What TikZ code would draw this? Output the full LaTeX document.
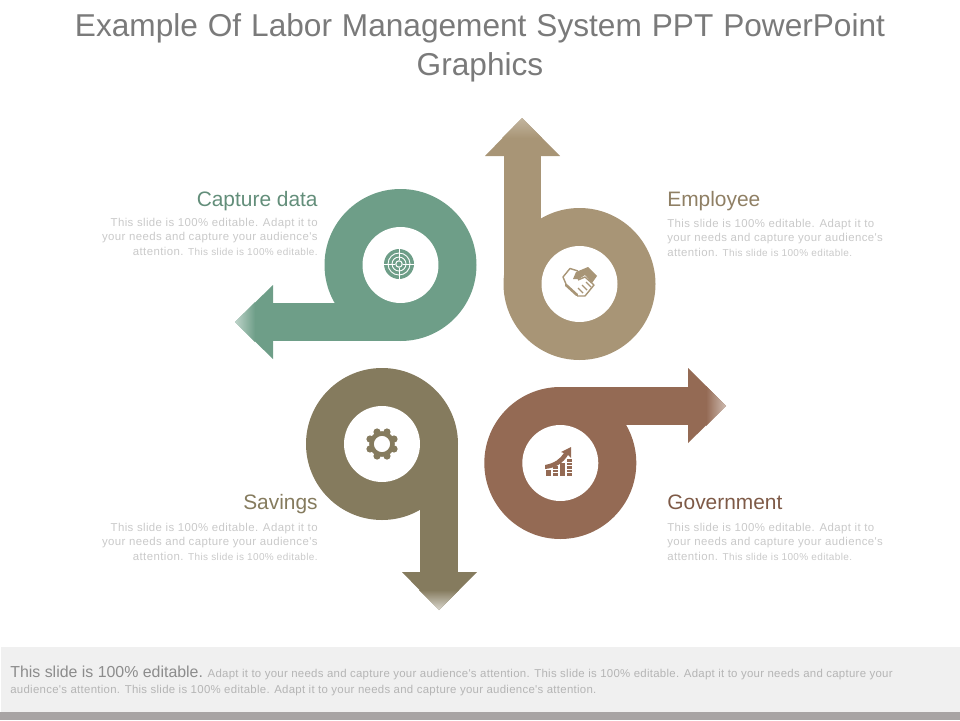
\documentclass[tikz,border=0pt]{standalone}
\usepackage{fontspec}
\setmainfont{Liberation Sans}
\newfontfamily\titlefont[WordSpace=1.13]{Liberation Sans}
\newfontfamily\bodyfont[LetterSpace=3.5]{Liberation Sans}
\newfontfamily\footfont[LetterSpace=2.5]{Liberation Sans}
\usepackage{xcolor}
\usepackage{tikz}
\usetikzlibrary{positioning,calc}
\definecolor{capturegreen}{HTML}{6E9E88}
\definecolor{employeetan}{HTML}{A89576}
\definecolor{savingsolive}{HTML}{857B5E}
\definecolor{governrust}{HTML}{946A54}
\definecolor{bodygray}{HTML}{C9C9C9}
\definecolor{footerbar}{HTML}{A8A4A4}
\tikzset{
    hubhole/.style={circle,fill=white,minimum size=1.52cm,inner sep=0pt},
    headline/.style={inner sep=0pt,font=\fontsize{11.9}{14}\selectfont},
    bodyleft/.style={anchor=north east,align=right,text=bodygray,inner sep=0pt,font=\bodyfont\fontsize{6.5}{8.15}\selectfont},
    bodyright/.style={anchor=north west,align=left,text=bodygray,inner sep=0pt,font=\bodyfont\fontsize{6.5}{8.15}\selectfont}
}
\newcommand{\smalltail}{{\fontsize{5.7}{8.15}\selectfont This slide is 100\% editable.}}
\begin{document}
\begin{tikzpicture}[x=0.02cm,y=-0.02cm]
    \useasboundingbox (0,0) rectangle (960,720);

    % Footer band
    \fill[black!6] (1,647) rectangle (960,712);
    \fill[footerbar] (0,712) rectangle (960,720);

    % Title
    \node[align=center,text=black!52,font=\titlefont\fontsize{18}{22}\selectfont] (title) at (480,48)
        {Example Of Labor Management System PPT PowerPoint\\Graphics};

    % Capture data arrow
    \fill[capturegreen] (400.5,265) circle (76);
    \fill[capturegreen] (400.5,303) rectangle (272,341);
    \fill[capturegreen] (273,285) -- (235,322) -- (273,359) -- cycle;
    \shade[left color=capturegreen!45!white,right color=capturegreen] (235,322) -- (255,302) -- (255,342) -- cycle;
    \node[hubhole] (capturehub) at (400.5,265) {};

    % Employee arrow
    \fill[employeetan] (579.5,284) circle (76);
    \fill[employeetan] (503.5,284) rectangle (541,155);
    \fill[employeetan] (485,156) -- (522,118) -- (560,156) -- cycle;
    \shade[top color=employeetan!70!white,bottom color=employeetan] (522,118) -- (502,138) -- (542,138) -- cycle;
    \node[hubhole] (employeehub) at (579.5,284) {};

    % Savings arrow
    \fill[savingsolive] (382,444) circle (76);
    \fill[savingsolive] (420,444) rectangle (458,573);
    \fill[savingsolive] (402,572) -- (439,610) -- (477,572) -- cycle;
    \shade[bottom color=savingsolive!30!white,top color=savingsolive] (439,610) -- (419,590) -- (459,590) -- cycle;
    \node[hubhole] (savingshub) at (382,444) {};

    % Government arrow
    \fill[governrust] (560.3,463) circle (76);
    \fill[governrust] (560.3,387) rectangle (689,425);
    \fill[governrust] (688,368) -- (726,406) -- (688,443) -- cycle;
    \shade[right color=governrust!45!white,left color=governrust] (726,406) -- (706,386) -- (706,426) -- cycle;
    \node[hubhole] (governhub) at (560.3,463) {};

    % Target icon
    \coordinate (targetmid) at (399,264);
    \fill[capturegreen] (targetmid) circle (15);
    \draw[white,line width=0.5pt] (targetmid) circle (11) (targetmid) circle (7);
    \draw[white,line width=0.6pt] (targetmid) circle (3.2);
    \draw[white,line width=0.4pt] (384,264) -- (395,264) (403,264) -- (414,264) (399,249) -- (399,260) (399,268) -- (399,279);

    % Handshake icon
    \draw[employeetan,line width=0.8pt,line join=round] (578,271) -- (570,268.5) -- (563,277) -- (566,284);
    \draw[employeetan,line width=1.5pt,line cap=round] (566,285) -- (577,295);
    \draw[employeetan,line width=0.8pt,line join=round] (577,296) -- (585,296) -- (594,285) -- (585,277) -- (578,280);
    \fill[employeetan] (576,272) -- (588,267) -- (597,276) -- (592,283) -- (585,275) -- (579,279) -- (573,279) -- cycle;
    \draw[employeetan,line width=0.8pt] (578,288) -- (583,293) (582,285) -- (587,290) (586,282) -- (591,287);

    % Gear icon
    \coordinate (gearmid) at (382,444);
    \draw[savingsolive,line width=2.6pt] (gearmid) circle (10.5);
    \foreach \ang in {0,45,...,315}
        \fill[savingsolive] (gearmid) ++(\ang+22.5:13) circle (3.6);

    % Chart icon
    \fill[governrust] (546,470) rectangle (551,476);
    \fill[governrust] (553,466) rectangle (558,476);
    \fill[governrust] (560,463) rectangle (565,476);
    \fill[governrust] (567,459) rectangle (572,476);
    \foreach \rowy in {469,472.5}
        \draw[white,line width=0.4pt] (553,\rowy) -- (558,\rowy) (567,\rowy) -- (572,\rowy);
    \draw[white,line width=0.4pt] (567,462) -- (572,462) (567,465.5) -- (572,465.5);
    \fill[governrust] (545,465) .. controls (555,463) and (560,459) .. (564,453) -- (561,452) -- (571,447) -- (571,458)
        -- (568,455) .. controls (563,463) and (556,468) .. (545,469) -- cycle;

    % Labels on the left
    \node[headline,anchor=base east,text=capturegreen!90!black] (capturelabel) at (318,206) {Capture data};
    \node[bodyleft] (capturebody) at (318,218)
        {This slide is 100\% editable. Adapt it to\\your needs and capture your audience's\\attention. \smalltail};
    \node[headline,anchor=base east,text=savingsolive] (savingslabel) at (318,509) {Savings};
    \node[bodyleft] (savingsbody) at (318,523)
        {This slide is 100\% editable. Adapt it to\\your needs and capture your audience's\\attention. \smalltail};

    % Labels on the right
    \node[headline,anchor=base west,text=employeetan!85!black] (employeelabel) at (667,206) {Employee};
    \node[bodyright] (employeebody) at (667,219)
        {This slide is 100\% editable. Adapt it to\\your needs and capture your audience's\\attention. \smalltail};
    \node[headline,anchor=base west,text=governrust!85!black] (governlabel) at (667,509) {Government};
    \node[bodyright] (governbody) at (667,523)
        {This slide is 100\% editable. Adapt it to\\your needs and capture your audience's\\attention. \smalltail};

    % Footer text
    \node[anchor=north west,align=left,inner sep=0pt,text=bodygray!90!black,font=\footfont\fontsize{6.5}{9}\selectfont] (footertext) at (10,666)
        {{\setmainfont{Liberation Sans}\normalfont\fontsize{9.05}{9}\selectfont\color{black!45}This slide is 100\% editable.} Adapt it to your needs and capture your audience's attention. This slide is 100\% editable. Adapt it to your needs and capture your\\audience's attention. This slide is 100\% editable. Adapt it to your needs and capture your audience's attention.};
\end{tikzpicture}
\end{document}
